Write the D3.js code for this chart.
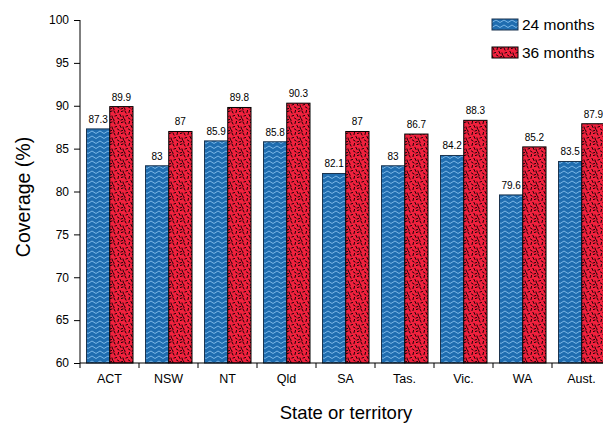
<!DOCTYPE html>
<html>
<head>
<meta charset="utf-8">
<script src="https://cdn.jsdelivr.net/npm/d3@7"></script>
<style>
  body { margin: 0; background: #fff; }
  text { font-family: "Liberation Sans", Arial, sans-serif; fill: #000; }
</style>
</head>
<body>
<script>
// chart data
var states = ["ACT", "NSW", "NT", "Qld", "SA", "Tas.", "Vic.", "WA", "Aust."];
var months24 = [87.3, 83, 85.9, 85.8, 82.1, 83, 84.2, 79.6, 83.5];
var months36 = [89.9, 87, 89.8, 90.3, 87, 86.7, 88.3, 85.2, 87.9];
var seriesNames = ["24 months", "36 months"];
var yTicks = [60, 65, 70, 75, 80, 85, 90, 95, 100];

var w = 603, h = 423;

var svg = d3.select("body").append("svg")
  .attr("width", w)
  .attr("height", h);

// patterns for the bars
var defs = svg.append("defs");

var zig = defs.append("pattern")
  .attr("id", "zigzag")
  .attr("patternUnits", "userSpaceOnUse")
  .attr("width", 8)
  .attr("height", 5);
zig.append("rect").attr("width", 8).attr("height", 5).attr("fill", "#1f6db0");
zig.append("path")
  .attr("d", "M0,3.5 L4,1 L8,3.5")
  .attr("fill", "none")
  .attr("stroke", "#7ab6e6")
  .attr("stroke-width", 1);

// little black dashes scattered on red
var conf = defs.append("pattern")
  .attr("id", "confetti")
  .attr("patternUnits", "userSpaceOnUse")
  .attr("width", 11)
  .attr("height", 11);
conf.append("rect").attr("width", 11).attr("height", 11).attr("fill", "#f0213d");
conf.append("path")
  .attr("d", "M1,1 L2,3 M5.5,0.5 L5,2.5 M8.5,1.5 L10,1 M2,6 L3.5,5.5 M7,4.5 L8,6.5 M10,6 L10.5,8 M0.5,9 L1,10.5 M4.5,8 L6,9 M8,10 L9.5,9.5")
  .attr("stroke", "#000")
  .attr("stroke-width", 0.9)
  .attr("stroke-linecap", "square");

// scales
var x0 = d3.scaleBand()
  .domain(states)
  .range([80, 611]);

var x1 = d3.scaleBand()
  .domain(seriesNames)
  .range([6.5, x0.bandwidth() - 6]);

var y = d3.scaleLinear()
  .domain([60, 100])
  .range([363, 20]);

var fills = ["url(#zigzag)", "url(#confetti)"];
var strokes = ["#1c3550", "#000"];

var rows = states.map(function(s, i) {
  return { state: s, values: [months24[i], months36[i]] };
});

var groups = svg.selectAll(".group")
  .data(rows)
  .enter()
  .append("g")
  .attr("class", "group")
  .attr("transform", function(d) { return "translate(" + x0(d.state) + ",0)"; });

groups.selectAll("rect")
  .data(function(d) { return d.values.map(function(v, j) { return { key: seriesNames[j], v: v, j: j }; }); })
  .enter()
  .append("rect")
  .attr("x", function(d) { return x1(d.key); })
  .attr("width", x1.bandwidth())
  .attr("y", function(d) { return y(d.v); })
  .attr("height", function(d) { return y(60) - y(d.v); })
  .attr("fill", function(d) { return fills[d.j]; })
  .attr("stroke", function(d) { return strokes[d.j]; })
  .attr("stroke-width", 1);

// value labels
groups.selectAll(".val")
  .data(function(d) { return d.values.map(function(v, j) { return { key: seriesNames[j], v: v }; }); })
  .enter()
  .append("text")
  .attr("class", "val")
  .attr("x", function(d) { return x1(d.key) + x1.bandwidth() / 2; })
  .attr("y", function(d) { return y(d.v) - 6; })
  .attr("text-anchor", "middle")
  .style("font-size", "10px")
  .text(function(d) { return d.v; });

// y axis
var yAxis = d3.axisLeft(y)
  .tickValues(yTicks)
  .tickSize(6)
  .tickPadding(5);

var ya = svg.append("g")
  .attr("transform", "translate(80,0)")
  .call(yAxis);
ya.select(".domain").attr("d", "M0," + y(100) + "V" + y(60)).attr("stroke", "#000");
ya.selectAll(".tick line").attr("stroke", "#000");
ya.selectAll(".tick text").style("font-size", "12px").attr("fill", "#000");

// x axis
var xa = svg.append("g")
  .attr("transform", "translate(0," + y(60) + ")");
xa.append("line")
  .attr("x1", 80).attr("x2", 611)
  .attr("stroke", "#000");
xa.selectAll(".xt")
  .data(states.concat(["end"]))
  .enter()
  .append("line")
  .attr("x1", function(d, i) { return i < states.length ? x0(d) : x0.range()[1]; })
  .attr("x2", function(d, i) { return i < states.length ? x0(d) : x0.range()[1]; })
  .attr("y1", 0).attr("y2", 5)
  .attr("stroke", "#000");
xa.selectAll(".xl")
  .data(states)
  .enter()
  .append("text")
  .attr("x", function(d) { return x0(d) + x0.bandwidth() / 2; })
  .attr("y", 20)
  .attr("text-anchor", "middle")
  .style("font-size", "12.5px")
  .text(function(d) { return d; });

// axis titles
svg.append("text")
  .attr("transform", "translate(30,197) rotate(-90)")
  .attr("text-anchor", "middle")
  .style("font-size", "19.5px")
  .text("Coverage (%)");

svg.append("text")
  .attr("x", 346)
  .attr("y", 419)
  .attr("text-anchor", "middle")
  .style("font-size", "18.5px")
  .text("State or territory");

// legend
var legend = svg.selectAll(".legend")
  .data(seriesNames)
  .enter()
  .append("g")
  .attr("class", "legend")
  .attr("transform", function(d, i) { return "translate(492," + (19 + i * 28) + ")"; });

legend.append("rect")
  .attr("width", 26)
  .attr("height", 11)
  .attr("fill", function(d, i) { return fills[i]; })
  .attr("stroke", function(d, i) { return strokes[i]; });

legend.append("text")
  .attr("x", 30)
  .attr("y", 11)
  .style("font-size", "15.5px")
  .text(function(d) { return d; });
</script>
</body>
</html>
